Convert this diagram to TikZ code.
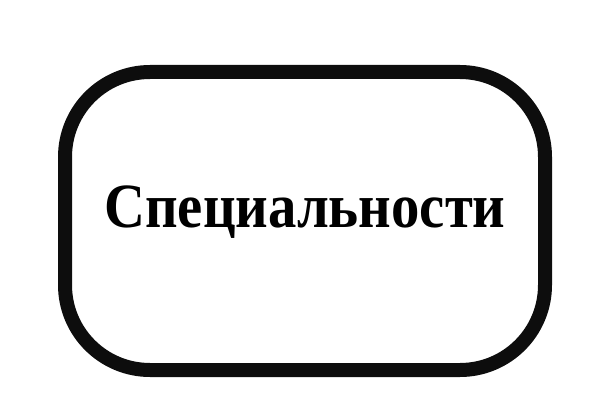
\documentclass[tikz,border=0pt]{standalone}
\usepackage{fontspec}
\setmainfont{Liberation Serif}
\newfontfamily\lblfont[FakeStretch=0.9]{Liberation Serif}
\begin{document}
\begin{tikzpicture}[x=1pt,y=-1pt,
  boxstyle/.style={draw=black!95, line width=14pt, rounded corners=85pt},
  labelstyle/.style={font=\lblfont\fontsize{63}{70}\selectfont\bfseries, inner sep=0pt, anchor=base}]
\useasboundingbox (0,0) rectangle (600,420);
\draw[boxstyle] (65,72) rectangle (545,370);
\node[labelstyle] (lbl) at (305,227) {Специальности};
\end{tikzpicture}
\end{document}
